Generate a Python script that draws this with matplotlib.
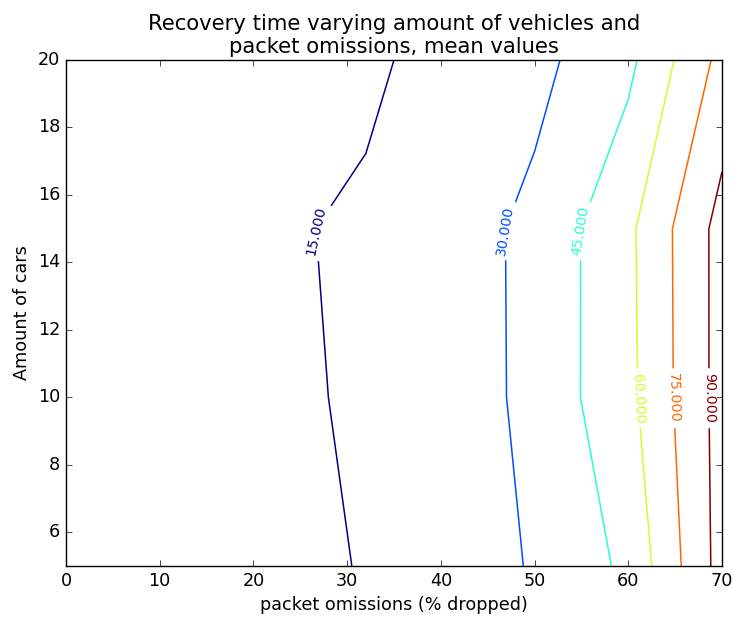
import matplotlib
matplotlib.use('Agg')
import matplotlib.pyplot as plt
import numpy as np

plt.style.use('classic')

# Grid of the measurements
omissions = [0, 10, 20, 32, 40, 50, 60, 70]
cars = [5, 10, 15, 20]

# Mean recovery time, one list per amount of cars
time_5_cars = [3.0, 5.5, 8.0, 16.0, 23.4, 30.9, 48.1, 95.7]
time_10_cars = [4.0, 7.0, 11.0, 17.0, 19.7, 34.4, 56.05, 95.5]
time_15_cars = [5.0, 9.0, 12.58, 16.93, 22.0, 33.6, 56.84, 95.4]
time_20_cars = [4.0, 7.0, 10.0, 12.6, 19.0, 25.73, 41.43, 79.4]

levels = [15, 30, 45, 60, 75, 90]


def main():
    recovery = np.array([time_5_cars, time_10_cars,
                         time_15_cars, time_20_cars])

    fig = plt.figure(figsize=(7.33, 6.17), dpi=100)
    ax = fig.add_axes([0.090, 0.0827, 0.895, 0.8201])

    cs = ax.contour(omissions, cars, recovery, levels=levels, cmap='jet',
                    linewidths=1.1)

    # Put the labels where the original has them
    spots = [(27.0, 14.93), (47.2, 14.95), (55.2, 14.95),
             (61.0, 9.97), (64.8, 9.97), (68.55, 9.97)]
    ax.clabel(cs, fmt='%1.3f', fontsize=10.3, manual=spots)

    ax.set_xlim(0, 70)
    ax.set_ylim(5, 20)
    ax.set_xticks(range(0, 71, 10))
    ax.set_yticks(range(6, 21, 2))
    ax.tick_params(labelsize=12.7)

    ax.set_title('Recovery time varying amount of vehicles and\n'
                 'packet omissions, mean values', fontsize=15.2)
    ax.set_xlabel('packet omissions (% dropped)', fontsize=12.7)
    ax.set_ylabel('Amount of cars', fontsize=12.7)

    fig.savefig('out.png', dpi=100)


if __name__ == '__main__':
    main()
